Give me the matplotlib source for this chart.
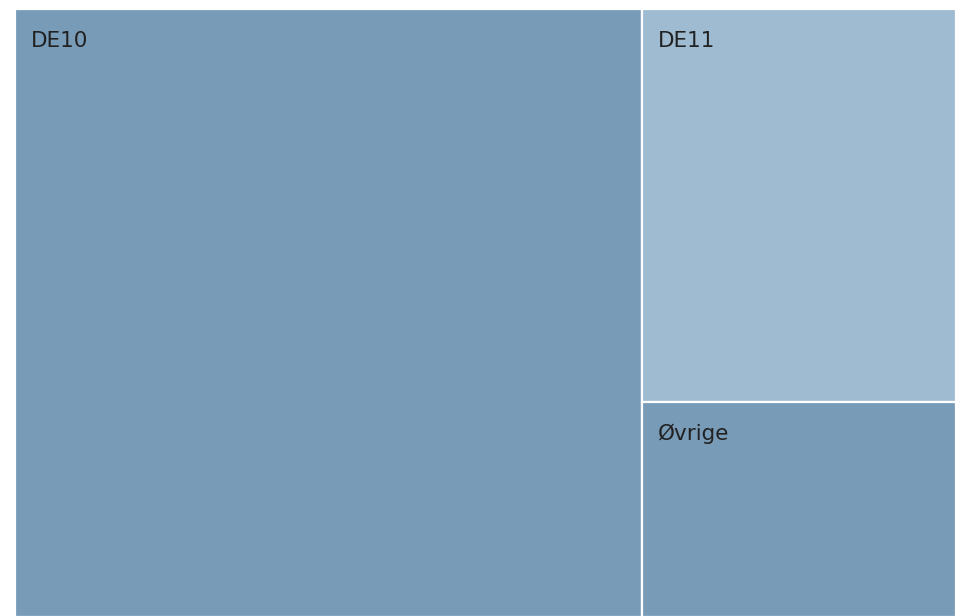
import matplotlib.pyplot as plt
from matplotlib.patches import Rectangle

# treemap data
labels = ["DE10", "DE11", "Øvrige"]
values = [66.6, 21.6, 11.8]
colors = ["#789bb8", "#9ebbd1", "#789bb8"]

fig = plt.figure(figsize=(9.55, 6.16), dpi=100)
# axes spans the plotted area (slightly padded so the white borders fall outside)
ax = fig.add_axes([15 / 955, -1 / 616, 941 / 955, 608 / 616])
W, H = 100.0, 100.0
ax.set_xlim(0, W)
ax.set_ylim(0, H)
ax.axis("off")

total = sum(values)
# first item takes a full-height column, the rest stack in the remaining column
w0 = W * values[0] / total
rects = [(0, 0, w0, H)]
rest = sum(values[1:])
y = H
for v in values[1:]:
    h = H * v / rest
    y -= h
    rects.append((w0, y, W - w0, h))

for (x0, y0, w, h), lab, c in zip(rects, labels, colors):
    ax.add_patch(Rectangle((x0, y0), w, h, facecolor=c, edgecolor="white", linewidth=1.6))
    ax.annotate(lab, xy=(x0, y0 + h), xytext=(16, -38), textcoords="offset pixels",
                ha="left", va="baseline", fontsize=15.5, color="#222222")

fig.savefig("out.png", dpi=100)
